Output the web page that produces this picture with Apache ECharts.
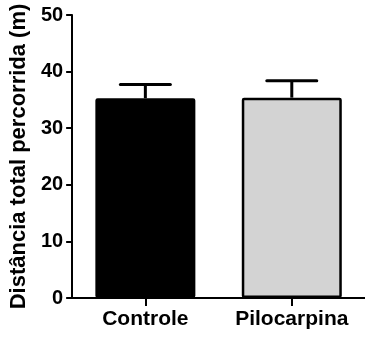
<!DOCTYPE html>
<html>
<head>
<meta charset="utf-8">
<script src="https://cdn.jsdelivr.net/npm/echarts@6/dist/echarts.min.js"></script>
<style>html,body{margin:0;padding:0;background:#fff}#c{width:365px;height:337px}</style>
</head>
<body>
<div id="c"></div>
<script>
var categories = ['Controle', 'Pilocarpina'];
var means = [35.3, 35.4];
var errTops = [37.7, 38.4];
var barColors = ['#000000', '#d3d3d3'];
var yTicks = [0, 10, 20, 30, 40, 50];

var chart = echarts.init(document.getElementById('c'));
var font = 'Liberation Sans, Arial, sans-serif';
chart.setOption({
  animation: false,
  grid: { left: 72, right: -1, top: 15, bottom: 39 },
  xAxis: {
    type: 'category',
    data: categories,
    axisLine: { lineStyle: { color: '#000', width: 2 } },
    axisTick: { show: true, alignWithLabel: true, interval: 0, length: 8, lineStyle: { color: '#000', width: 2 } },
    axisLabel: { interval: 0, hideOverlap: false, color: '#000', fontFamily: font, fontWeight: 'bold', fontSize: 21, margin: 11 }
  },
  yAxis: {
    type: 'value',
    min: yTicks[0], max: yTicks[yTicks.length - 1], interval: 10,
    name: 'Distância total percorrida (m)',
    nameLocation: 'middle',
    nameGap: 41,
    nameTextStyle: { color: '#000', fontFamily: font, fontWeight: 'bold', fontSize: 22 },
    axisLine: { show: true, lineStyle: { color: '#000', width: 2 } },
    axisTick: { show: true, length: 6, lineStyle: { color: '#000', width: 2 } },
    splitLine: { show: false },
    axisLabel: { color: '#000', fontFamily: font, fontWeight: 'bold', fontSize: 20, margin: 9 }
  },
  series: [
    {
      type: 'bar',
      barWidth: 100,
      data: means.map(function (v, i) {
        return { value: v, itemStyle: { color: barColors[i], borderColor: '#000', borderWidth: 2.5, borderRadius: 1 } };
      }),
      z: 2
    },
    {
      type: 'custom',
      z: 1,
      data: means.map(function (v, i) { return [i, v, errTops[i]]; }),
      renderItem: function (params, api) {
        var base = api.coord([api.value(0), api.value(1)]);
        var top = api.coord([api.value(0), api.value(2)]);
        var hw = 25;
        return {
          type: 'group',
          children: [
            { type: 'line', shape: { x1: base[0], y1: base[1], x2: top[0], y2: top[1] }, style: { stroke: '#000', lineWidth: 3 } },
            { type: 'line', shape: { x1: top[0] - hw, y1: top[1], x2: top[0] + hw, y2: top[1] }, style: { stroke: '#000', lineWidth: 3, lineCap: 'round' } }
          ]
        };
      }
    }
  ]
});
</script>
</body>
</html>
